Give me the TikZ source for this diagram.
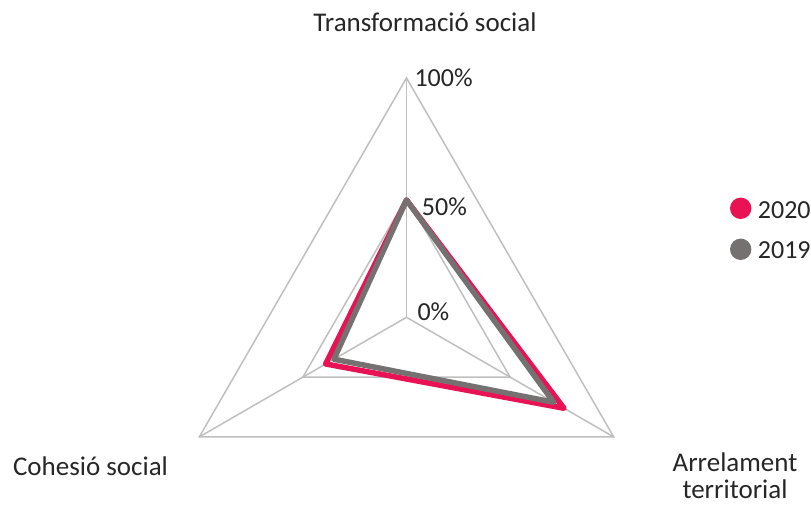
\documentclass[tikz,border=0pt]{standalone}
\usepackage{fontspec}
\setmainfont{Carlito}
\definecolor{gridgray}{RGB}{191,191,191}
\definecolor{pinkserie}{RGB}{233,18,84}
\definecolor{grayserie}{RGB}{118,113,113}
\definecolor{txtgray}{RGB}{38,38,38}
\begin{document}
\begin{tikzpicture}[x=1pt,y=-1pt,
    grid/.style={draw=gridgray,line width=1.5pt},
    serie/.style={line width=5.5pt,line join=round,line cap=round},
    axislabel/.style={font=\fontsize{27}{27}\selectfont,text=txtgray,inner sep=0pt},
    ticklabel/.style={font=\fontsize{26}{26}\selectfont,text=txtgray,inner sep=0pt,anchor=base west}]
    \useasboundingbox (0,0) rectangle (811,506);
    \begin{scope}[shift={(406.5,317.3)}]
    \coordinate (o) at (0,0);
    \foreach \a/\n in {-90/t,150/l,30/r} {
    \coordinate (\n100) at (\a:239.3);
    \coordinate (\n50) at (\a:119.7);
    \draw[grid] (o) -- (\n100);
    }
    \draw[grid] (t100) -- (l100) -- (r100) -- cycle;
    \draw[grid] (t50) -- (l50) -- (r50) -- cycle;
    % series
    \coordinate (ta) at (-90:117.3);
    \coordinate (la) at (150:93.3);
    \coordinate (ra) at (30:181.9);
    \coordinate (tb) at (-90:117.3);
    \coordinate (lb) at (150:83.8);
    \coordinate (rb) at (30:169.9);
    \draw[serie,pinkserie] (ta) -- (la) -- (ra) -- cycle;
    \draw[serie,grayserie] (tb) -- (lb) -- (rb) -- cycle;
    \end{scope}
    \node[ticklabel] (p100) at (414.3,86.7) {100\%};
    \node[ticklabel] (p50) at (421.7,215.7) {50\%};
    \node[ticklabel] (p0) at (417.3,320) {0\%};
    \node[axislabel,anchor=base] (transf) at (425,31.7) {Transformació social};
    \node[axislabel,anchor=base] (cohes) at (90.5,475.7) {Cohesió social};
    \node[axislabel,anchor=base,align=center,text depth=0pt] (arrel) at (735,498.5) {Arrelament\\territorial};
    % legend
    \fill[pinkserie] (740.7,208.3) circle (10.7);
    \fill[grayserie] (740.7,249.3) circle (10.7);
    \node[ticklabel] (l2020) at (757.7,218.3) {2020};
    \node[ticklabel] (l2019) at (757.7,258.3) {2019};
\end{tikzpicture}
\end{document}
